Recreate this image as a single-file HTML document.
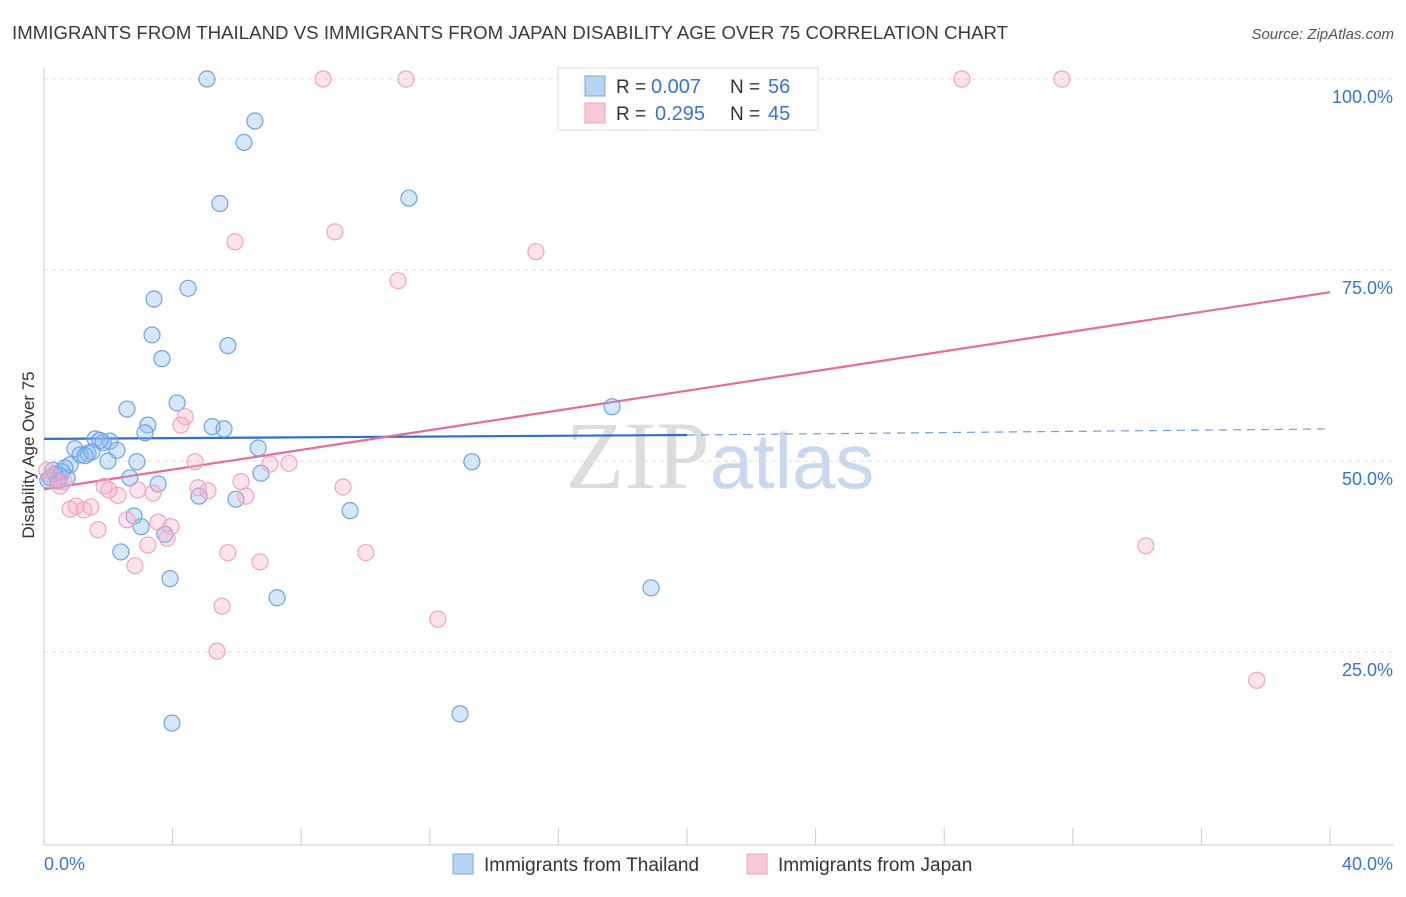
<!DOCTYPE html>
<html><head><meta charset="utf-8"><style>
body{margin:0;background:#fff;font-family:"Liberation Sans",sans-serif}
</style></head><body>
<svg id="chart" width="1406" height="892" xmlns="http://www.w3.org/2000/svg" font-family="Liberation Sans, sans-serif">
<text x="12" y="39" font-size="18.6" fill="#3a3a3a" textLength="996">IMMIGRANTS FROM THAILAND VS IMMIGRANTS FROM JAPAN DISABILITY AGE OVER 75 CORRELATION CHART</text>
<text x="1394" y="39" font-size="15" fill="#555" font-style="italic" text-anchor="end">Source: ZipAtlas.com</text>
<text x="720" y="488" font-size="96" text-anchor="middle" fill="#ddd" font-family="Liberation Serif, serif">ZIP<tspan fill="#c8d8ee" font-family="Liberation Sans, sans-serif" font-size="78">atlas</tspan></text>
<g id="grid"></g><g id="axes"></g><g id="lines"></g><g id="pts"></g>
<text transform="translate(34,455) rotate(-90)" font-size="17" fill="#333" text-anchor="middle">Disability Age Over 75</text>
<g>
<rect x="558" y="68" width="260" height="62" fill="#fff" stroke="#ddd"/>
<rect x="585" y="76" width="20" height="20" fill="#b9d3f3" stroke="#7aa8e0"/>
<rect x="585" y="103" width="20" height="20" fill="#f9c9d8" stroke="#ef9fbb"/>
<text x="616" y="93" font-size="19" fill="#333">R =</text>
<text x="651" y="93" font-size="20" fill="#3a74c9">0.007</text>
<text x="730" y="93" font-size="19" fill="#333">N =</text>
<text x="768" y="93" font-size="20" fill="#3a74c9">56</text>
<text x="616" y="120" font-size="19" fill="#333">R =</text>
<text x="655" y="120" font-size="20" fill="#3a74c9">0.295</text>
<text x="730" y="120" font-size="19" fill="#333">N =</text>
<text x="768" y="120" font-size="20" fill="#3a74c9">45</text>
</g>
<g>
<rect x="453" y="854" width="20" height="20" fill="#b9d3f3" stroke="#7aa8e0"/>
<text x="484" y="871" font-size="19" fill="#333">Immigrants from Thailand</text>
<rect x="747" y="854" width="20" height="20" fill="#f9c9d8" stroke="#ef9fbb"/>
<text x="778" y="871" font-size="19" fill="#333">Immigrants from Japan</text>
</g>
</svg>
<script>
const blueX=[5.07,6.56,6.22,5.47,11.35,3.42,4.48,3.36,3.67,5.72,17.67,2.58,4.14,3.23,3.14,5.23,5.6,1.59,2.05,1.84,2.27,0.96,1.12,1.37,6.66,2.89,1.99,13.31,0.81,0.65,0.34,0.5,0.19,0.72,2.67,3.55,6.75,4.82,5.97,9.52,2.8,3.02,3.76,2.39,3.92,7.25,18.88,12.94,3.98,0.12,0.28,0.56,1.74,1.49,1.28,0.44];
const blueY=[100,94.5,91.7,83.7,84.4,71.2,72.6,66.5,63.4,65.1,57.1,56.8,57.6,54.7,53.7,54.5,54.2,52.9,52.6,52.4,51.4,51.6,50.8,51.0,51.7,49.9,50.0,49.9,49.5,49.1,48.3,48.0,47.8,47.8,47.8,47.0,48.4,45.4,45.0,43.5,42.8,41.4,40.4,38.1,34.6,32.1,33.4,16.9,15.7,47.5,48.8,48.6,52.7,51.2,50.7,47.4];
const pinkX=[8.68,11.26,28.55,31.66,5.94,9.05,15.3,11.01,4.39,4.26,4.7,7.03,7.62,0.09,0.25,0.5,0.62,1.87,2.3,2.02,2.92,3.39,4.79,5.1,6.13,6.28,9.3,1.0,0.81,1.24,1.46,1.68,2.58,3.55,3.95,3.23,3.83,5.72,6.72,10.01,2.83,5.54,12.25,5.38,34.27,37.72];
const pinkY=[100,100,100,100,78.7,80.0,77.4,73.6,55.8,54.7,49.9,49.6,49.7,48.8,48.0,46.7,47.3,46.7,45.5,46.2,46.2,45.8,46.5,46.1,47.3,45.4,46.6,44.1,43.7,43.6,44.0,41.0,42.3,42.0,41.4,39.0,39.9,38.0,36.8,38.0,36.3,31.0,29.3,25.1,38.9,21.3];
const yTicks=[100,75,50,25];
const yTickLabels=["100.0%","75.0%","50.0%","25.0%"];
const xTicks=[0,4,8,12,16,20,24,28,32,36,40];
const blueTrend=[52.9,53.4,54.2];
const pinkTrend=[46.3,72.1];
const NS="http://www.w3.org/2000/svg";
const X=v=>44+v/40*1286;
const Y=v=>843-v*7.64;
function mk(t,a,p){const e=document.createElementNS(NS,t);for(const k in a)e.setAttribute(k,a[k]);p.appendChild(e);return e;}
const grid=document.getElementById('grid'),axes=document.getElementById('axes');
yTicks.forEach((t,i)=>{
 const g=mk('line',{x1:44,x2:1394,y1:Y(t),y2:Y(t),stroke:'#ddd','stroke-dasharray':'4,4'},grid);
 
 
 const l=mk('text',{x:1393,y:Y(t)+24,'font-size':18,fill:'#3a74c9','text-anchor':'end'},axes);
 l.textContent=yTickLabels[i];
 
 
});
const ax=mk('line',{x1:44,x2:44,y1:68,y2:845,stroke:'#ccc'},axes);


const bx=mk('line',{x1:44,x2:1394,y1:845,y2:845,stroke:'#ccc'},axes);


xTicks.forEach(t=>{const e=mk('line',{x1:X(t),x2:X(t),y1:828,y2:845,stroke:'#ccc'},axes);
 
 });
const x0=mk('text',{x:44,y:870,'font-size':18,fill:'#3a74c9'},axes);x0.textContent='0.0%';


const x1=mk('text',{x:1393,y:870,'font-size':18,fill:'#3a74c9','text-anchor':'end'},axes);x1.textContent='40.0%';


const pts=document.getElementById('pts');
blueX.forEach((v,i)=>{const c=mk('circle',{cx:X(v),cy:Y(blueY[i]),r:8,fill:'rgba(140,185,240,0.35)',stroke:'#6fa3e3','stroke-width':1.2},pts);
 
 });
pinkX.forEach((v,i)=>{const c=mk('circle',{cx:X(v),cy:Y(pinkY[i]),r:8,fill:'rgba(246,175,200,0.35)',stroke:'#f0a4c0','stroke-width':1.2},pts);
 
 });
const lines=document.getElementById('lines');
const b1=mk('line',{x1:X(0),y1:Y(blueTrend[0]),x2:X(20),y2:Y(blueTrend[1]),stroke:'#2f6fd0','stroke-width':2.2},lines);


const b2=mk('line',{x1:X(20),y1:Y(blueTrend[1]),x2:X(40),y2:Y(blueTrend[2]),stroke:'#6f9fe0','stroke-width':1.2,'stroke-dasharray':'8,6'},lines);


const p1=mk('line',{x1:X(0),y1:Y(pinkTrend[0]),x2:X(40),y2:Y(pinkTrend[1]),stroke:'#e8699a','stroke-width':2.2},lines);


</script>
</body></html>
